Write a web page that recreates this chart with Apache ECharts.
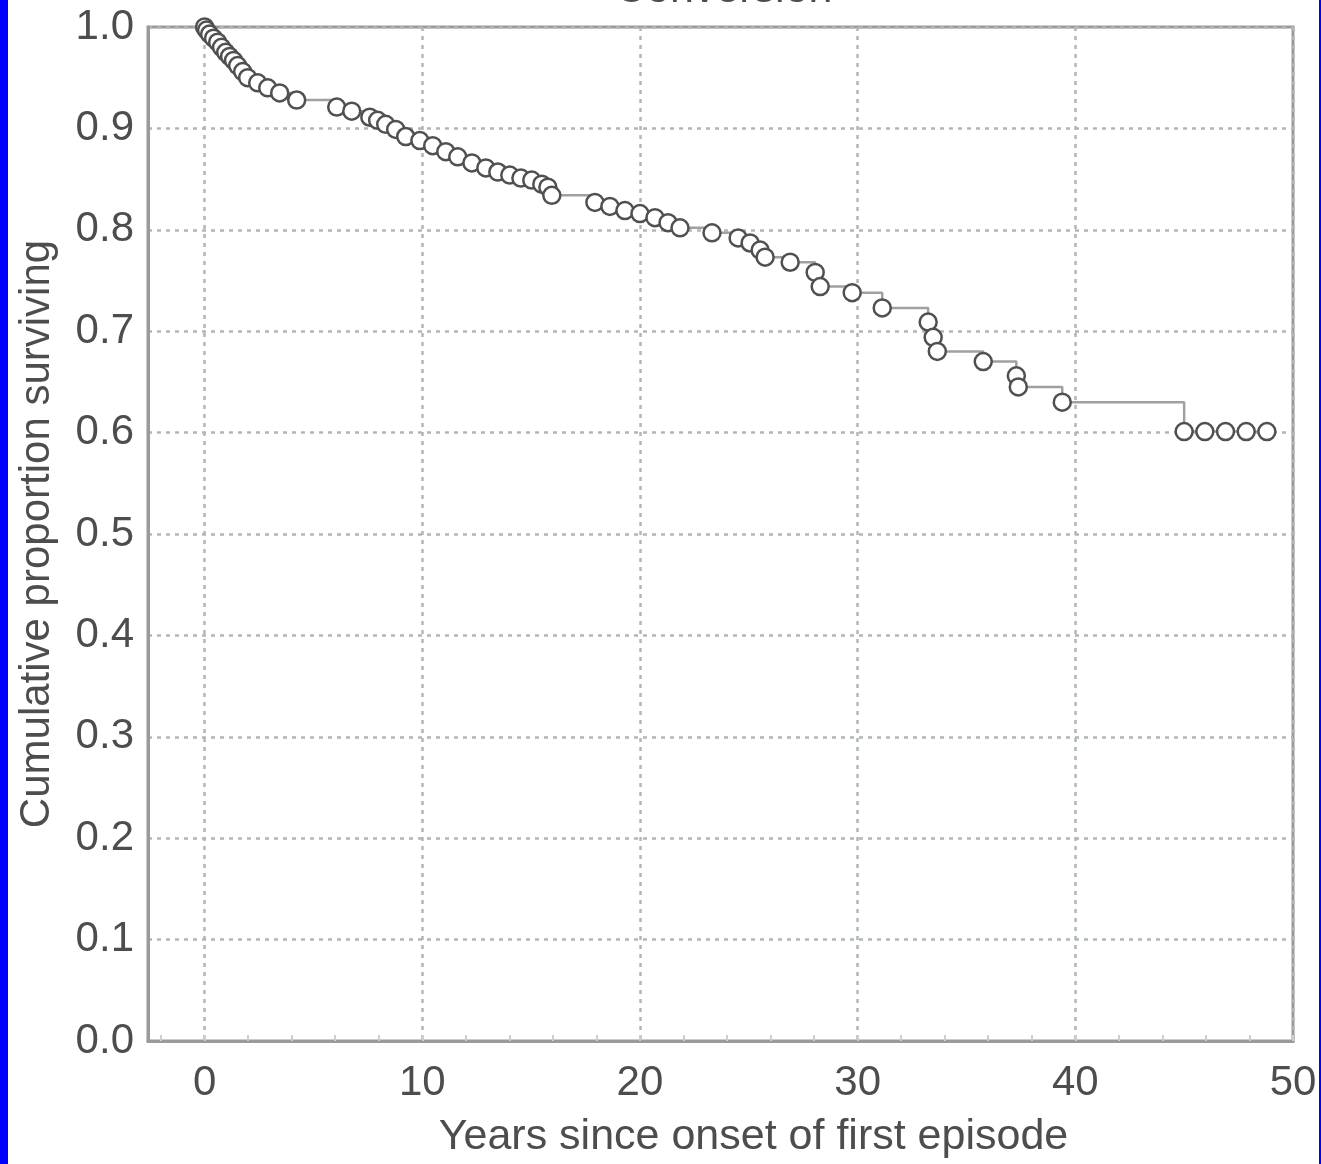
<!DOCTYPE html>
<html>
<head>
<meta charset="utf-8">
<script src="https://cdn.jsdelivr.net/npm/echarts@6/dist/echarts.min.js"></script>
<style>
  html, body { margin: 0; padding: 0; background: #fff; }
  #chart { width: 1321px; height: 1164px; }
</style>
</head>
<body>
<div id="chart"></div>
<script>
// Kaplan-Meier estimate: time (years) and cumulative proportion surviving
const times = [0, 0.09, 0.23, 0.41, 0.6, 0.78, 0.97, 1.15, 1.33, 1.52, 1.75, 1.98, 2.44, 2.9, 3.45, 4.23,
  6.07, 6.76, 7.59, 7.95, 8.32, 8.78, 9.24, 9.89, 10.48, 11.08, 11.63, 12.28, 12.92, 13.47, 14.02, 14.53,
  15.03, 15.49, 15.77, 15.95, 17.93, 18.62, 19.31, 20.0, 20.69, 21.29, 21.84, 23.31, 24.51, 25.06, 25.52,
  25.75, 26.9, 28.05, 28.28, 29.75, 31.13, 33.24, 33.47, 33.66, 35.77, 37.29, 37.38, 39.4,
  45.0, 45.95, 46.9, 47.85, 48.8];
const survival = [1.0, 0.997, 0.993, 0.989, 0.985, 0.98, 0.975, 0.971, 0.967, 0.962, 0.956, 0.95, 0.945, 0.94, 0.935, 0.928,
  0.921, 0.917, 0.911, 0.908, 0.904, 0.899, 0.892, 0.888, 0.883, 0.877, 0.872, 0.866, 0.861, 0.857, 0.854, 0.851,
  0.849, 0.845, 0.842, 0.834, 0.827, 0.823, 0.819, 0.816, 0.812, 0.807, 0.802, 0.797, 0.792, 0.787, 0.78,
  0.773, 0.768, 0.758, 0.744, 0.738, 0.723, 0.709, 0.694, 0.68, 0.67, 0.656, 0.645, 0.63,
  0.601, 0.601, 0.601, 0.601, 0.601];

const xLabels = [0, 10, 20, 30, 40, 50];
const xMinorTicks = [-2, 0, 2, 4, 6, 8, 10, 12, 14, 16, 18, 20, 22, 24, 26, 28, 30, 32, 34, 36, 38, 40, 42, 44, 46, 48, 50];
const xGridValues = [0, 10, 20, 30, 40, 50];

const title = 'Conversion';
const xName = 'Years since onset of first episode';
const yName = 'Cumulative proportion surviving';

const chart = echarts.init(document.getElementById('chart'), null, { renderer: 'canvas' });
const font = '"Liberation Sans", Arial, sans-serif';
const textColor = '#4d4d4d';
const gridLine = { show: true, lineStyle: { color: '#b0b8b0', width: 2.5, type: [4, 5] } };

chart.setOption({
  backgroundColor: '#ffffff',
  animation: false,
  title: {
    text: title,
    left: 610,
    top: -36,
    textStyle: { fontFamily: font, fontSize: 43, fontWeight: 'normal', color: textColor }
  },
  graphic: [
    { type: 'rect', left: 0, top: 0, shape: { width: 8, height: 1164 }, style: { fill: '#0000ff' }, z: 100 },
    { type: 'rect', left: 1319, top: 0, shape: { width: 2, height: 1164 }, style: { fill: '#0000ff' }, z: 100 }
  ],
  grid: {
    left: 148, right: 28, top: 27, bottom: 121,
    show: true, borderColor: '#9a9a9a', borderWidth: 3, backgroundColor: 'transparent'
  },
  xAxis: [
    {
      type: 'value', min: -2.6, max: 50,
      name: xName, nameLocation: 'middle', nameGap: 75,
      nameTextStyle: { fontFamily: font, fontSize: 43, color: textColor, padding: [0, 0, 0, 66] },
      axisLine: { show: true, onZero: false, lineStyle: { color: '#9a9a9a', width: 3 } },
      axisTick: { show: true, inside: true, length: 6, customValues: xMinorTicks, lineStyle: { color: '#c8cce0', width: 2 } },
      axisLabel: { customValues: xLabels, margin: 21, fontFamily: font, fontSize: 42, color: textColor },
      splitLine: { show: false }
    },
    {
      type: 'value', min: -2.6, max: 50, position: 'bottom',
      axisLine: { show: false },
      axisTick: { show: false, customValues: xGridValues },
      axisLabel: { show: false },
      splitLine: gridLine
    }
  ],
  yAxis: {
    type: 'value', min: 0, max: 1, interval: 0.1,
    name: yName, nameLocation: 'middle', nameGap: 90, nameRotate: 90,
    nameTextStyle: { fontFamily: font, fontSize: 42, color: textColor },
    axisLine: { show: true, onZero: false, lineStyle: { color: '#9a9a9a', width: 3 } },
    axisTick: { show: false },
    axisLabel: { margin: 14, fontFamily: font, fontSize: 42, color: textColor, formatter: v => v.toFixed(1) },
    splitLine: gridLine
  },
  series: [{
    type: 'line',
    xAxisIndex: 0,
    data: times.map((t, i) => [t, survival[i]]),
    step: 'end',
    symbol: 'circle',
    symbolSize: 17,
    showSymbol: true,
    showAllSymbol: true,
    lineStyle: { color: '#a0a0a0', width: 2.5 },
    itemStyle: { color: '#ffffff', borderColor: '#505050', borderWidth: 2.5 },
    z: 5
  }]
});
</script>
</body>
</html>
